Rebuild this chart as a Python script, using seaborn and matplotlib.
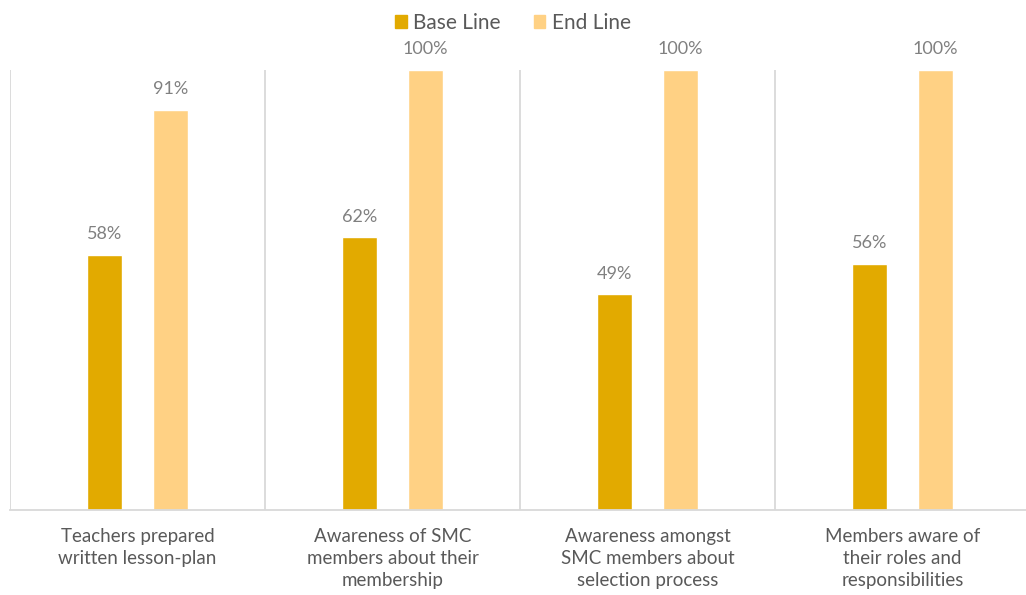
import textwrap

import matplotlib.pyplot as plt
import pandas as pd
import seaborn as sns

categories = [
    "Teachers prepared written lesson-plan",
    "Awareness of SMC members about their membership",
    "Awareness amongst SMC members about selection process",
    "Members aware of their roles and responsibilities",
]
series = ["Base Line", "End Line"]
base_line = [58, 62, 49, 56]
end_line = [91, 100, 100, 100]

colors = {"Base Line": "#E2AA00", "End Line": "#FFD184"}

df = pd.DataFrame({
    "category": categories * 2,
    "series": [series[0]] * 4 + [series[1]] * 4,
    "value": base_line + end_line,
})

sns.set_theme(style="white")
plt.rcParams["font.family"] = ["Lato", "DejaVu Sans"]

fig = plt.figure(figsize=(10.26, 5.95), dpi=100)
ax = fig.add_axes([10 / 1026, 85 / 595, 1020 / 1026, 440 / 595])

sns.barplot(
    data=df, x="category", y="value", hue="series", order=categories,
    hue_order=series, palette=colors, width=0.518, gap=0.47,
    saturation=1, ax=ax, legend=False,
)

for cont in ax.containers:
    ax.bar_label(cont, fmt="%d%%", padding=9, color="#808080", fontsize=13)

ax.set_ylim(0, 100)
ax.set_xlim(-0.5, 3.5)
ax.set_yticks([])
ax.set_xlabel("")
ax.set_ylabel("")
for b in [-0.5, 0.5, 1.5, 2.5]:
    ax.axvline(b, color="#D9D9D9", lw=1.3, zorder=0)
for s in ["top", "right", "left"]:
    ax.spines[s].set_visible(False)
ax.spines["bottom"].set_color("#D9D9D9")
ax.spines["bottom"].set_linewidth(1.3)

wrapped = [textwrap.fill(c, 20, break_on_hyphens=False) for c in categories]
ax.set_xticks(range(len(categories)))
ax.set_xticklabels(wrapped, fontsize=13.5, color="#595959", linespacing=1.35)
ax.tick_params(axis="x", length=0, pad=13)

handles = [plt.Rectangle((0, 0), 1, 1, color=colors[s]) for s in series]
fig.legend(
    handles, series, loc="upper center", bbox_to_anchor=(0.5, 1.01), ncol=2,
    frameon=False, fontsize=15, handlelength=0.55, handleheight=0.55,
    handletextpad=0.3, columnspacing=1.6, labelcolor="#595959",
)

fig.savefig("out.png", dpi=100)
